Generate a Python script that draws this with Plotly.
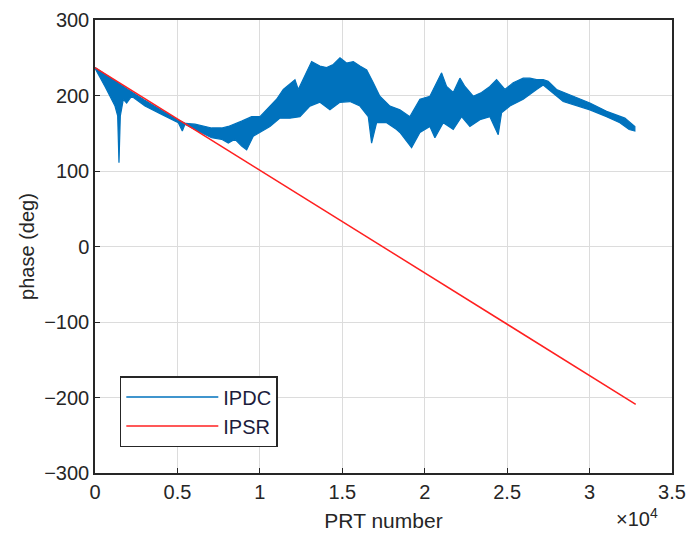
import plotly.graph_objects as go

ipdc_upper_x = [0, 1000, 2000, 3000, 4000, 5000, 5500, 6064, 7075, 7681, 8085, 8490, 8894,
                9502, 10006, 10612, 11016, 11420, 12130, 12330, 12840, 13140, 13640, 14050,
                14450, 14860, 15260, 15670, 16070, 16480, 16880, 17280, 17890, 18496, 19102,
                19709, 20315, 20721, 21024, 21327, 21731, 22135, 22438, 22943, 23449, 23954,
                24358, 24864, 25367, 25974, 26380, 26786, 27187, 27490, 27998, 29009, 30018,
                31031, 31837, 32141, 32747]
ipdc_upper_y = [237, 222, 208, 194, 181, 168, 163, 162, 157, 157, 159, 162, 166,
                172, 172, 186, 195, 208, 221, 208, 230, 245, 239, 237,
                241, 250, 243, 245, 239, 234, 217, 199, 186, 181, 172,
                195, 199, 217, 230, 212, 204, 223, 212, 199, 204, 212,
                221, 208, 217, 223, 223, 221, 221, 219, 208, 199, 190,
                179, 172, 170, 159]
ipdc_lower_x = [0, 606, 1011, 1213, 1375, 1455, 1536, 1718, 1920, 2223, 3032, 4044, 5053,
                5296, 5458, 6064, 7075, 7681, 8085, 8490, 8894, 9199, 9600, 10006, 10612,
                11219, 11825, 12432, 13038, 13645, 14251, 14857, 15464, 16070, 16576, 16778,
                17082, 17688, 18294, 18496, 19001, 19203, 19709, 20315, 20618, 21124, 21731,
                22236, 22741, 23348, 23954, 24459, 24661, 25166, 25974, 26786, 27187, 27998,
                28400, 30018, 31031, 31837, 32400, 32747]
ipdc_lower_y = [236, 212, 195, 186, 173, 111, 173, 195, 190, 199, 186, 175, 164,
                153, 162, 155, 144, 142, 137, 142, 133, 128, 146, 151, 159,
                170, 170, 172, 186, 191, 181, 191, 192, 186, 172, 137,
                164, 164, 155, 151, 137, 131, 151, 159, 144, 164, 155,
                172, 159, 168, 172, 148, 177, 186, 195, 208, 214, 199,
                192, 181, 172, 164, 155, 153]

# IPSR: straight line
ipsr_x = [0, 32800]
ipsr_y = [237, -209]

x_ticks = [0, 5000, 10000, 15000, 20000, 25000, 30000, 35000]
x_tick_text = ["0", "0.5", "1", "1.5", "2", "2.5", "3", "3.5"]
y_ticks = [-300, -200, -100, 0, 100, 200, 300]

BLUE = "#0072BD"
RED = "#FF2020"
FONT = "Liberation Sans, Arial, sans-serif"

fig = go.Figure()
fig.add_trace(go.Scatter(
    x=ipdc_upper_x + ipdc_lower_x[::-1], y=ipdc_upper_y + ipdc_lower_y[::-1],
    mode="lines", fill="toself", fillcolor=BLUE,
    line=dict(color=BLUE, width=1.2), showlegend=False, legendgroup="ipdc",
    hoverinfo="skip"))
fig.add_trace(go.Scatter(x=[None], y=[None], mode="lines", name="IPDC",
                         line=dict(color=BLUE, width=1.5), legendgroup="ipdc"))
fig.add_trace(go.Scatter(x=ipsr_x, y=ipsr_y, mode="lines", name="IPSR",
                         line=dict(color=RED, width=1.5)))

axis_common = dict(showgrid=True, gridcolor="#dcdcdc", gridwidth=1, automargin=False,
                   showline=True, linecolor="#262626", linewidth=1.5, mirror=True,
                   ticks="inside", ticklen=5, tickcolor="#262626",
                   zeroline=False, tickfont=dict(size=20, color="#262626", family=FONT))

fig.update_xaxes(range=[0, 35000], tickvals=x_ticks, ticktext=x_tick_text,
                 title=dict(text="PRT number", font=dict(size=21, color="#262626", family=FONT),
                            standoff=12),
                 **axis_common)
fig.update_yaxes(range=[-300, 300], tickvals=y_ticks,
                 title=dict(text="phase (deg)", font=dict(size=20, color="#262626", family=FONT),
                            standoff=4),
                 **axis_common)

fig.add_annotation(text="×10<sup>4</sup>", xref="paper", yref="paper",
                   x=0.94, y=-0.098, xanchor="center", yanchor="middle", showarrow=False,
                   font=dict(size=20, color="#262626", family=FONT))

fig.update_layout(
    width=687, height=542,
    margin=dict(l=95, r=15, t=20, b=69),
    plot_bgcolor="white", paper_bgcolor="white",
    font=dict(family=FONT, color="#262626"),
    legend=dict(x=0.043, y=0.214, xanchor="left", yanchor="top",
                bordercolor="#262626", borderwidth=1.5, bgcolor="white",
                font=dict(size=20, color="#1c1c3c", family=FONT),
                itemwidth=92, tracegroupgap=0),
)

fig.write_html("out.html")
